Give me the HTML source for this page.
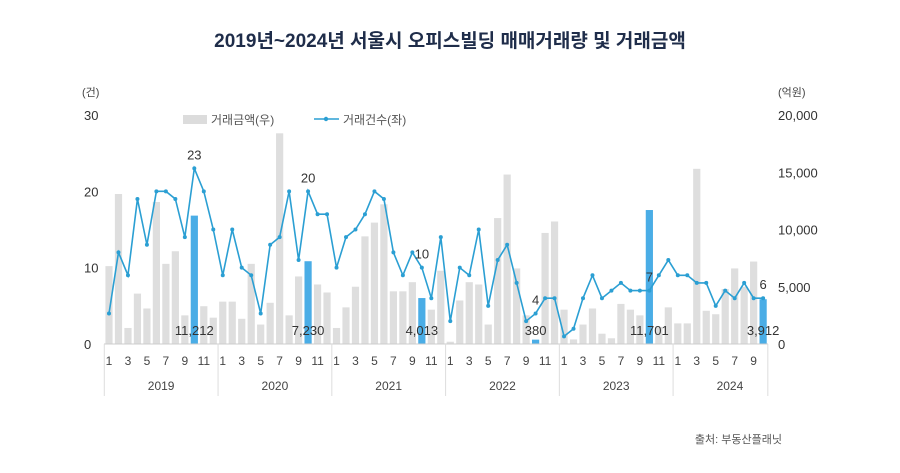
<!DOCTYPE html>
<html><head><meta charset="utf-8">
<style>
body{margin:0;background:#fff;width:900px;height:468px;overflow:hidden;font-family:"Liberation Sans","Noto Sans CJK KR",sans-serif;}
</style></head>
<body>
<svg id="chart" width="900" height="468" xmlns="http://www.w3.org/2000/svg" font-family="Liberation Sans, Noto Sans CJK KR, sans-serif">
<text x="450" y="47" text-anchor="middle" font-size="19" font-weight="bold" fill="#1f2d4a">2019년~2024년 서울시 오피스빌딩 매매거래량 및 거래금액</text>
<text x="82" y="96" font-size="11" fill="#444">(건)</text>
<text x="778" y="96" font-size="11" fill="#444">(억원)</text>
<g>
<rect x="183" y="115" width="24" height="9" fill="#dcdcdc"/>
<text x="211" y="124" font-size="12" fill="#555">거래금액(우)</text>
<line x1="314" y1="119" x2="339" y2="119" stroke="#2b9fd3" stroke-width="1.6"/>
<circle cx="326" cy="119" r="2.2" fill="#2b9fd3"/>
<text x="343" y="124" font-size="12" fill="#555">거래건수(좌)</text>
</g>
<g id="bars"></g><g id="line"></g><g id="labels"></g><g id="axes"></g>
<text x="782" y="443" text-anchor="end" font-size="11" fill="#555">출처: 부동산플래닛</text>
</svg>
<script>
const years=["2019","2020","2021","2022","2023","2024"];
const counts=[4,12,9,19,13,20,20,19,14,23,20,15, 9,15,10,9,4,13,14,20,11,20,17,17, 10,14,15,17,20,19,12,9,12,10,6,14, 3,10,9,15,5,11,13,8,3,4,6,6, 1,2,6,9,6,7,8,7,7,7,9,11, 9,9,8,8,5,7,6,8,6,6];
const amounts=[6800,13100,1400,4400,3100,12400,7000,8100,2500,11212,3300,2300, 3700,3700,2200,7000,1700,3600,18400,2500,5900,7230,5200,4500, 1400,3200,5000,9400,10600,12200,4600,4600,5400,4013,3000,6400, 200,3800,5400,5200,1700,11000,14800,6600,2500,380,9700,10700, 3000,400,1700,3100,900,500,3500,3000,2500,11701,1500,3200, 1800,1800,15300,2900,2600,4800,6600,5000,7200,3912];
const leftTicks=[0,10,20,30];
const rightTicks=[0,5000,10000,15000,20000];
const rightTickLabels=["0","5,000","10,000","15,000","20,000"];
const highlight=[9,21,33,45,57,69];
const NS="http://www.w3.org/2000/svg";
const x0=109,step=9.48,yBase=344,yTop=115;
const xs=i=>x0+i*step;
const yL=v=>yBase-(v/30)*(yBase-yTop);
const yR=v=>yBase-(v/20000)*(yBase-yTop);
function mk(tag,attrs,parent,text){const e=document.createElementNS(NS,tag);for(const k in attrs)e.setAttribute(k,attrs[k]);if(text!==undefined)e.textContent=text;document.getElementById(parent).appendChild(e);return e;}
amounts.forEach((v,i)=>{const h=highlight.includes(i);
const r=mk("rect",{x:xs(i)-3.6,y:yR(v),width:7.2,height:yBase-yR(v),fill:h?"#4aade6":"#dedede"},"bars");

});
const pl=mk("polyline",{points:counts.map((v,i)=>xs(i)+","+yL(v)).join(" "),fill:"none",stroke:"#2b9fd3","stroke-width":1.6},"line");


counts.forEach((v,i)=>{const c=mk("circle",{cx:xs(i),cy:yL(v),r:2,fill:"#2b9fd3"},"line");

});
highlight.forEach(i=>{
const t=mk("text",{x:xs(i),y:yL(counts[i])-9,"text-anchor":"middle","font-size":13,fill:"#333"},"labels",String(counts[i]));


const a=mk("text",{x:xs(i),y:335,"text-anchor":"middle","font-size":13,fill:"#333"},"labels",amounts[i].toLocaleString("en-US"));

});
const ax=mk("line",{x1:104,y1:yBase,x2:768,y2:yBase,stroke:"#ccc"},"axes");


leftTicks.forEach(v=>{const t=mk("text",{x:84,y:yL(v)+5,"font-size":13,fill:"#333"},"axes",String(v));

});
rightTicks.forEach((v,k)=>{const t=mk("text",{x:778,y:yR(v)+5,"font-size":13,fill:"#333"},"axes",rightTickLabels[k]);

});
counts.forEach((v,i)=>{if(i%2===0){const t=mk("text",{x:xs(i),y:365,"text-anchor":"middle","font-size":12,fill:"#444"},"axes",String(i%12+1));

}});
years.forEach((y,k)=>{const xl=xs(k*12)-4.7;
const s=mk("line",{x1:xl,y1:yBase,x2:xl,y2:396,stroke:"#ddd"},"axes");


const t=mk("text",{x:(xl+xs(k*12+11)+4.7)/2,y:390,"text-anchor":"middle","font-size":12,fill:"#444"},"axes",y);

});
const se=mk("line",{x1:xs(69)+4.7,y1:yBase,x2:xs(69)+4.7,y2:396,stroke:"#ddd"},"axes");


</script>
</body></html>
